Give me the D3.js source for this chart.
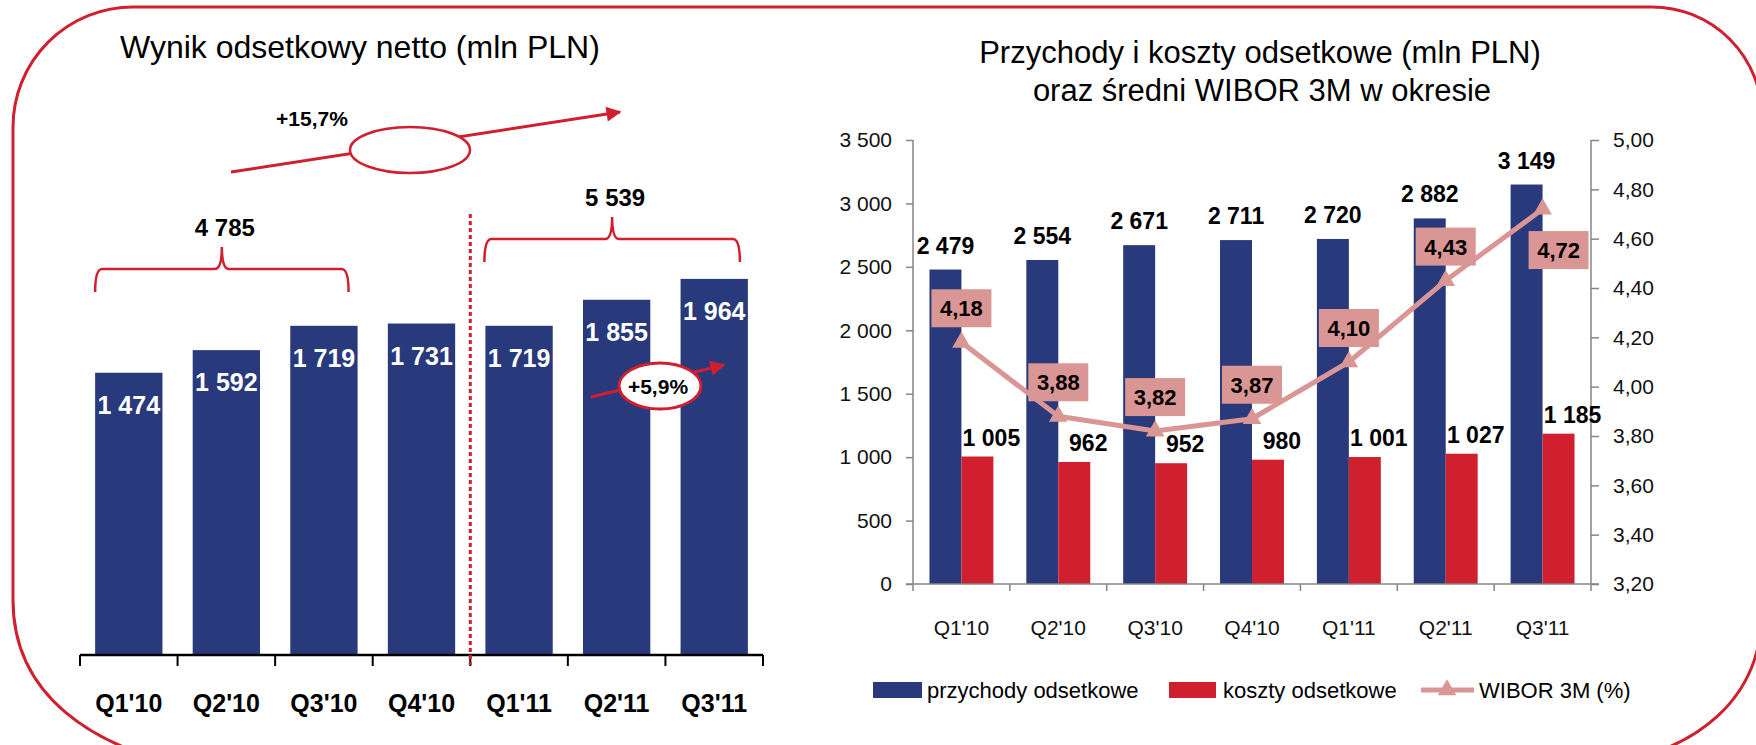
<!DOCTYPE html>
<html>
  <head>
    <meta charset="utf-8">
    <title>Wynik odsetkowy netto</title>
    <style>
      body { margin: 0; background: white; overflow: hidden; }
      svg { display: block; }
      text { font-family: "Liberation Sans", Arial, sans-serif; fill: black; }
      .title { font-size: 31px; }
      .bold { font-weight: bold; }
      .axis-gray path, .axis-gray line { stroke: #868686; stroke-width: 1.5; }
      .axis-gray text { font-size: 21px; fill: #111; }
    </style>
  </head>
  <body>
    <script src="https://d3js.org/d3.v7.min.js"></script>
    <script>
      const quarters = ["Q1'10", "Q2'10", "Q3'10", "Q4'10", "Q1'11", "Q2'11", "Q3'11"];
      const netInterest = [1474, 1592, 1719, 1731, 1719, 1855, 1964];
      const interestIncome = [2479, 2554, 2671, 2711, 2720, 2882, 3149];
      const interestCost = [1005, 962, 952, 980, 1001, 1027, 1185];
      const wibor = [4.18, 3.88, 3.82, 3.87, 4.10, 4.43, 4.72];
      const incomeTicks = [0, 500, 1000, 1500, 2000, 2500, 3000, 3500];
      const wiborTicks = [3.2, 3.4, 3.6, 3.8, 4.0, 4.2, 4.4, 4.6, 4.8, 5.0];
      const periodTotals = [4785, 5539];
      const growthLabels = ["+15,7%", "+5,9%"];
      const legendLabels = ["przychody odsetkowe", "koszty odsetkowe", "WIBOR 3M (%)"];

      const width = 1756;
      const height = 745;
      const blue = "#283a7b";
      const red = "#d01f2f";
      const pink = "#d99694";

      const pl = d3.formatLocale({decimal: ",", thousands: " ", grouping: [3], currency: ["", " zł"]});
      const fmtInt = pl.format(",d");
      const fmtDec = pl.format(",.2f");

      const svg = d3.select("body")
        .append("svg")
        .attr("width", width)
        .attr("height", height);

      const defs = svg.append("defs");
      defs.append("marker")
        .attr("id", "arrow")
        .attr("viewBox", "0 0 10 10")
        .attr("refX", 9)
        .attr("refY", 5)
        .attr("markerUnits", "userSpaceOnUse")
        .attr("markerWidth", 17)
        .attr("markerHeight", 15)
        .attr("orient", "auto")
        .append("path")
        .attr("d", "M0,0 L10,5 L0,10 Z")
        .attr("fill", red);

      // outer frame; the bottom edge lies below the picture, only the corners show
      svg.append("path")
        .attr("d", "M133,7 H1652 A110,110 0 0 1 1762,117 V610 C1762,705 1690,748 1620,762" +
          " H170 C100,745 13,700 13,600 V127 A120,120 0 0 1 133,7 Z")
        .attr("fill", "none")
        .attr("stroke", red)
        .attr("stroke-width", 3);

      // ---------- left chart: net interest income ----------
      svg.append("text")
        .attr("class", "title")
        .style("font-size", "32px")
        .attr("x", 120).attr("y", 58)
        .text("Wynik odsetkowy netto (mln PLN)");

      const xN = d3.scaleBand()
        .domain(quarters)
        .range([80, 763])
        .paddingInner(0.31)
        .paddingOuter(0.155);
      const yN = d3.scaleLinear()
        .domain([0, 2000])
        .range([655, 272]);

      const left = svg.append("g");

      left.selectAll(".bar-n")
        .data(quarters)
        .join("rect")
        .attr("class", "bar-n")
        .attr("x", d => xN(d))
        .attr("y", (d, i) => yN(netInterest[i]))
        .attr("width", xN.bandwidth())
        .attr("height", (d, i) => yN(0) - yN(netInterest[i]))
        .attr("fill", blue);

      left.selectAll(".lab-n")
        .data(quarters)
        .join("text")
        .attr("class", "lab-n bold")
        .attr("x", d => xN(d) + xN.bandwidth() / 2)
        .attr("y", (d, i) => yN(netInterest[i]) + 41)
        .attr("text-anchor", "middle")
        .style("font-size", "25px")
        .style("fill", "white")
        .text((d, i) => fmtInt(netInterest[i]));

      // axis with ticks at category boundaries
      const stepN = xN.step();
      const boundsN = quarters.map(d => xN(d) - stepN * xN.paddingInner() / 2)
        .concat([xN(quarters[6]) + xN.bandwidth() + stepN * xN.paddingInner() / 2]);
      left.append("line")
        .attr("x1", boundsN[0]).attr("x2", boundsN[7])
        .attr("y1", yN(0)).attr("y2", yN(0))
        .attr("stroke", "black").attr("stroke-width", 2.5);
      left.selectAll(".tick-n")
        .data(boundsN)
        .join("line")
        .attr("class", "tick-n")
        .attr("x1", d => d).attr("x2", d => d)
        .attr("y1", yN(0)).attr("y2", yN(0) + 11)
        .attr("stroke", "black").attr("stroke-width", 2);
      left.selectAll(".xl-n")
        .data(quarters)
        .join("text")
        .attr("class", "xl-n bold")
        .attr("x", d => xN(d) + xN.bandwidth() / 2)
        .attr("y", 712)
        .attr("text-anchor", "middle")
        .style("font-size", "25px")
        .text(d => d);

      // dotted separator between 2010 and 2011
      left.append("line")
        .attr("x1", boundsN[4]).attr("x2", boundsN[4])
        .attr("y1", 214).attr("y2", 665)
        .attr("stroke", red).attr("stroke-width", 3)
        .attr("stroke-dasharray", "4,3");

      // braces with period totals
      function brace(x1, x2, yh, yEnd, yPeak) {
        const xm = (x1 + x2) / 2, r = 7;
        return `M${x1},${yEnd} Q${x1},${yh} ${x1 + r},${yh} L${xm - r},${yh} Q${xm},${yh} ${xm},${yPeak}` +
          ` Q${xm},${yh} ${xm + r},${yh} L${x2 - r},${yh} Q${x2},${yh} ${x2},${yEnd}`;
      }
      const braces = [
        {x1: xN(quarters[0]), x2: xN(quarters[2]) + xN.bandwidth() - 9, yh: 269, yEnd: 292, yPeak: 247},
        {x1: xN(quarters[4]) - 1, x2: xN(quarters[6]) + xN.bandwidth() - 8, yh: 239, yEnd: 262, yPeak: 217}
      ];
      braces.forEach((b, i) => {
        left.append("path")
          .attr("d", brace(b.x1, b.x2, b.yh, b.yEnd, b.yPeak))
          .attr("fill", "none")
          .attr("stroke", red)
          .attr("stroke-width", 2.5);
        left.append("text")
          .attr("class", "bold")
          .attr("x", (b.x1 + b.x2) / 2 + 3)
          .attr("y", b.yPeak - 11)
          .attr("text-anchor", "middle")
          .style("font-size", "24px")
          .text(fmtInt(periodTotals[i]));
      });

      // year-on-year growth arrow
      left.append("line")
        .attr("x1", 231).attr("y1", 172)
        .attr("x2", 620).attr("y2", 112)
        .attr("stroke", red).attr("stroke-width", 3)
        .attr("marker-end", "url(#arrow)");
      left.append("ellipse")
        .attr("cx", 410).attr("cy", 150)
        .attr("rx", 60).attr("ry", 23)
        .attr("fill", "white")
        .attr("stroke", red).attr("stroke-width", 2.5);
      left.append("text")
        .attr("class", "bold")
        .attr("x", 312).attr("y", 126)
        .attr("text-anchor", "middle")
        .style("font-size", "21px")
        .text(growthLabels[0]);

      // quarter-on-quarter growth arrow
      left.append("line")
        .attr("x1", 591).attr("y1", 397)
        .attr("x2", 724).attr("y2", 365)
        .attr("stroke", red).attr("stroke-width", 3)
        .attr("marker-end", "url(#arrow)");
      left.append("ellipse")
        .attr("cx", 660).attr("cy", 386)
        .attr("rx", 41).attr("ry", 23)
        .attr("fill", "white")
        .attr("stroke", red).attr("stroke-width", 3);
      left.append("text")
        .attr("class", "bold")
        .attr("x", 658).attr("y", 394)
        .attr("text-anchor", "middle")
        .style("font-size", "21px")
        .text(growthLabels[1]);

      // ---------- right chart: income, costs, WIBOR ----------
      svg.append("text")
        .attr("class", "title")
        .attr("x", 1260).attr("y", 63)
        .attr("text-anchor", "middle")
        .text("Przychody i koszty odsetkowe (mln PLN)");
      svg.append("text")
        .attr("class", "title")
        .attr("x", 1262).attr("y", 101)
        .attr("text-anchor", "middle")
        .text("oraz średni WIBOR 3M w okresie");

      const x0 = d3.scaleBand()
        .domain(quarters)
        .range([913, 1591])
        .paddingInner(0.34)
        .paddingOuter(0.17);
      const x1 = d3.scaleBand()
        .domain(["income", "cost"])
        .range([0, x0.bandwidth()]);
      const yL = d3.scaleLinear().domain([0, 3500]).range([584, 140]);
      const yR = d3.scaleLinear().domain([3.2, 5.0]).range([584, 140]);

      const right = svg.append("g");

      right.append("g")
        .attr("class", "axis-gray")
        .attr("transform", `translate(913,0)`)
        .call(d3.axisLeft(yL).tickValues(incomeTicks).tickSize(7).tickPadding(14).tickFormat(fmtInt))
        .call(g => g.select(".domain").attr("d", `M0,${yL(3500)}V${yL(0)}`))
        .selectAll("text").style("font-family", "Liberation Sans, Arial, sans-serif");

      right.append("g")
        .attr("class", "axis-gray")
        .attr("transform", `translate(1591,0)`)
        .call(d3.axisRight(yR).tickValues(wiborTicks).tickSize(8).tickPadding(14).tickFormat(fmtDec))
        .call(g => g.select(".domain").attr("d", `M0,${yR(5)}V${yR(3.2)}`))
        .selectAll("text").style("font-family", "Liberation Sans, Arial, sans-serif");

      const groups = right.selectAll(".grp")
        .data(quarters)
        .join("g")
        .attr("class", "grp")
        .attr("transform", d => `translate(${x0(d)},0)`);

      groups.append("rect")
        .attr("x", x1("income"))
        .attr("y", (d, i) => yL(interestIncome[i]))
        .attr("width", x1.bandwidth())
        .attr("height", (d, i) => yL(0) - yL(interestIncome[i]))
        .attr("fill", blue);
      groups.append("rect")
        .attr("x", x1("cost"))
        .attr("y", (d, i) => yL(interestCost[i]))
        .attr("width", x1.bandwidth())
        .attr("height", (d, i) => yL(0) - yL(interestCost[i]))
        .attr("fill", red);

      groups.append("text")
        .attr("class", "bold")
        .attr("x", x1("income") + x1.bandwidth() / 2)
        .attr("y", (d, i) => yL(interestIncome[i]) - 16)
        .attr("text-anchor", "middle")
        .style("font-size", "23px")
        .text((d, i) => fmtInt(interestIncome[i]));
      groups.append("text")
        .attr("class", "bold")
        .attr("x", x1("cost") + x1.bandwidth() / 2 + 14)
        .attr("y", (d, i) => yL(interestCost[i]) - 11)
        .attr("text-anchor", "middle")
        .style("font-size", "23px")
        .text((d, i) => fmtInt(interestCost[i]));

      // x axis with boundary ticks
      const step0 = x0.step();
      const bounds0 = quarters.map(d => x0(d) - step0 * x0.paddingInner() / 2)
        .concat([x0(quarters[6]) + x0.bandwidth() + step0 * x0.paddingInner() / 2]);
      right.append("line")
        .attr("x1", bounds0[0] - 7).attr("x2", bounds0[7] + 8)
        .attr("y1", yL(0)).attr("y2", yL(0))
        .attr("stroke", "#868686").attr("stroke-width", 1.5);
      right.selectAll(".tick-r")
        .data(bounds0)
        .join("line")
        .attr("class", "tick-r")
        .attr("x1", d => d).attr("x2", d => d)
        .attr("y1", yL(0)).attr("y2", yL(0) + 7)
        .attr("stroke", "#868686").attr("stroke-width", 1.5);
      right.selectAll(".xl-r")
        .data(quarters)
        .join("text")
        .attr("class", "xl-r")
        .attr("x", d => x0(d) + x0.bandwidth() / 2)
        .attr("y", 635)
        .attr("text-anchor", "middle")
        .style("font-size", "21px")
        .style("fill", "#111")
        .text(d => d);

      // WIBOR line
      const cx = d => x0(d) + x0.bandwidth() / 2;
      const line = d3.line()
        .x(d => cx(d))
        .y((d, i) => yR(wibor[i]));
      right.append("path")
        .datum(quarters)
        .attr("d", line)
        .attr("fill", "none")
        .attr("stroke", pink)
        .attr("stroke-width", 5)
        .attr("stroke-linejoin", "round");
      const tri = d3.symbol().type(d3.symbolTriangle).size(150);
      right.selectAll(".mk")
        .data(quarters)
        .join("path")
        .attr("class", "mk")
        .attr("d", tri)
        .attr("transform", (d, i) => `translate(${cx(d)},${yR(wibor[i])})`)
        .attr("fill", pink);

      const boxes = right.selectAll(".wb")
        .data(quarters)
        .join("g")
        .attr("class", "wb")
        .attr("transform", (d, i) => {
          const last = i === quarters.length - 1;
          return `translate(${cx(d) + (last ? 16 : 0)},${yR(wibor[i]) + (last ? 41 : -34)})`;
        });
      boxes.append("rect")
        .attr("x", -30).attr("y", -19)
        .attr("width", 60).attr("height", 38)
        .attr("fill", pink);
      boxes.append("text")
        .attr("class", "bold")
        .attr("y", 8)
        .attr("text-anchor", "middle")
        .style("font-size", "22px")
        .text((d, i) => fmtDec(wibor[i]));

      // legend
      const legend = svg.append("g").attr("transform", "translate(0,690)");
      legend.append("rect").attr("x", 873).attr("y", -8).attr("width", 49).attr("height", 16).attr("fill", blue);
      legend.append("text").attr("x", 927).attr("y", 8).style("font-size", "22px").text(legendLabels[0]);
      legend.append("rect").attr("x", 1169).attr("y", -8).attr("width", 47).attr("height", 16).attr("fill", red);
      legend.append("text").attr("x", 1223).attr("y", 8).style("font-size", "22px").text(legendLabels[1]);
      legend.append("line").attr("x1", 1421).attr("x2", 1474).attr("y1", 0).attr("y2", 0)
        .attr("stroke", pink).attr("stroke-width", 5);
      legend.append("path").attr("d", tri).attr("transform", "translate(1447,0)").attr("fill", pink);
      legend.append("text").attr("x", 1479).attr("y", 8).style("font-size", "22px").text(legendLabels[2]);
    </script>
  </body>
</html>
